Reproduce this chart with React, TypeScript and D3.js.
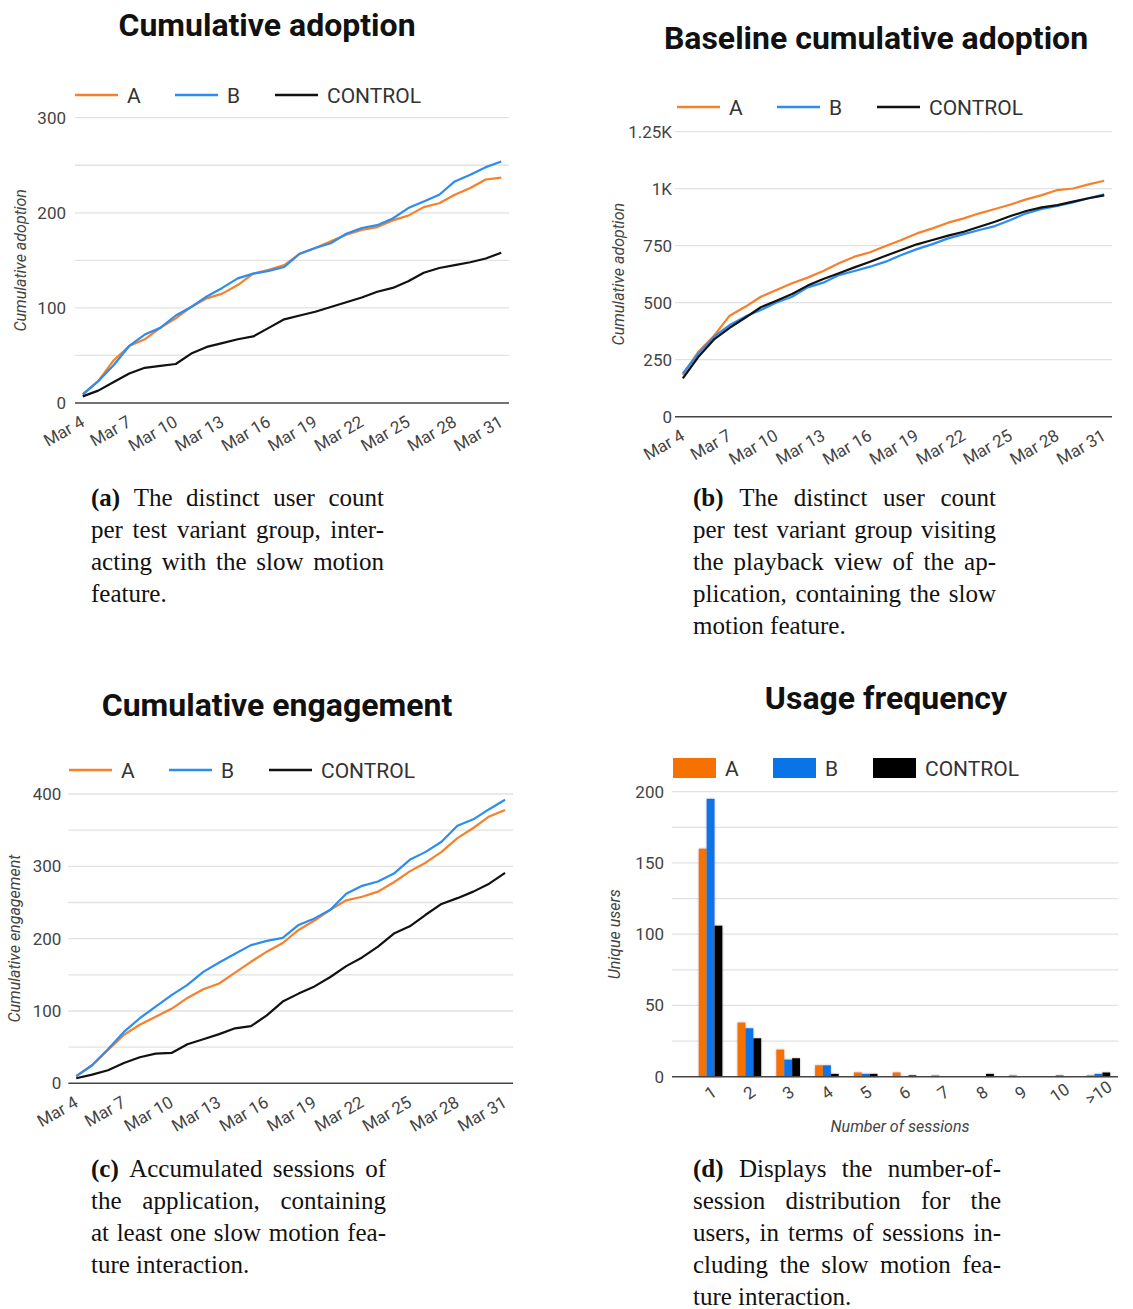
import React from 'react';
import * as d3 from 'd3';

// Day labels shared by the three cumulative charts
const days = [
  'Mar 4', 'Mar 5', 'Mar 6', 'Mar 7', 'Mar 8', 'Mar 9', 'Mar 10', 'Mar 11', 'Mar 12', 'Mar 13',
  'Mar 14', 'Mar 15', 'Mar 16', 'Mar 17', 'Mar 18', 'Mar 19', 'Mar 20', 'Mar 21', 'Mar 22', 'Mar 23',
  'Mar 24', 'Mar 25', 'Mar 26', 'Mar 27', 'Mar 28', 'Mar 29', 'Mar 30', 'Mar 31',
];

// (a) Cumulative adoption
const adoptionA = [9, 23, 45, 60, 67, 79, 89, 101, 110, 115, 124, 136, 140, 145, 157, 163, 170, 177, 182, 185, 192, 197, 206, 210, 219, 226, 235, 237];
const adoptionB = [9, 23, 40, 60, 72, 79, 92, 101, 112, 121, 131, 136, 139, 143, 157, 163, 168, 178, 184, 187, 194, 205, 212, 219, 233, 240, 248, 254];
const adoptionControl = [7, 13, 22, 31, 37, 39, 41, 52, 59, 63, 67, 70, 79, 88, 92, 96, 101, 106, 111, 117, 121, 128, 137, 142, 145, 148, 152, 158];

// (b) Baseline cumulative adoption
const baselineA = [183, 285, 355, 443, 482, 526, 556, 585, 610, 639, 673, 702, 721, 749, 775, 804, 826, 851, 870, 892, 911, 931, 953, 972, 994, 1001, 1019, 1035];
const baselineB = [190, 278, 351, 402, 439, 468, 501, 526, 567, 588, 621, 639, 658, 680, 709, 735, 757, 782, 801, 819, 836, 863, 892, 911, 925, 940, 958, 975];
const baselineControl = [168, 263, 339, 390, 434, 480, 509, 538, 575, 604, 629, 655, 680, 706, 731, 756, 775, 794, 811, 833, 855, 880, 902, 918, 928, 943, 958, 971];

// (c) Cumulative engagement
const engagementA = [10, 25, 46, 67, 81, 92, 103, 118, 130, 138, 153, 168, 182, 194, 212, 225, 240, 253, 258, 265, 278, 293, 305, 320, 339, 353, 369, 378];
const engagementB = [10, 25, 47, 71, 90, 106, 122, 136, 154, 167, 179, 191, 197, 201, 219, 228, 240, 262, 273, 279, 290, 309, 320, 334, 356, 365, 379, 392];
const engagementControl = [7, 12, 18, 28, 36, 41, 42, 54, 61, 68, 76, 79, 94, 113, 124, 134, 147, 162, 174, 189, 207, 217, 233, 248, 256, 265, 276, 291];

// (d) Usage frequency
const sessionBuckets = ['1', '2', '3', '4', '5', '6', '7', '8', '9', '10', '>10'];
const usersA = [160, 38, 19, 8, 3, 3, 1, 0, 1, 0, 1];
const usersB = [195, 34, 12, 8, 2, 0, 0, 0, 0, 1, 2];
const usersControl = [106, 27, 13, 2, 2, 1, 0, 2, 0, 0, 3];

const seriesNames = ['A', 'B', 'CONTROL'];
const lineColors = ['#f7812b', '#2b8df2', '#111111'];
const barColors = ['#f57100', '#0a73e8', '#000000'];

const SANS = 'Roboto, "Noto Sans", sans-serif';
const SERIF_NAME = '"Liberation Serif"';
const SERIF = `${SERIF_NAME}, "DejaVu Serif", serif`;
const CAPTION_SIZE = 25;
const TICK = '#444';

// Text measurement for justified captions
const measureCtx: CanvasRenderingContext2D | null =
  typeof document !== 'undefined' ? document.createElement('canvas').getContext('2d') : null;
function measure(text: string, bold: boolean): number {
  if (!measureCtx) return text.length * CAPTION_SIZE * 0.45;
  measureCtx.font = `${bold ? 'bold ' : ''}${CAPTION_SIZE}px ${SERIF_NAME}, serif`;
  return measureCtx.measureText(text).width;
}

type LineCfg = {
  title: string;
  titleX: number;
  titleY: number;
  legendX: number;
  legendY: number;
  left: number;
  right: number;
  top: number;
  bottom: number;
  yMax: number;
  labelStep: number;
  gridStep: number;
  labelGap: number;
  yLabel: string;
  yLabelX: number;
  fmt: (v: number) => string;
  series: number[][];
};

function Legend({ x, y, kind }: { x: number; y: number; kind: 'line' | 'rect' }) {
  const offsets = [0, 100, 200];
  return (
    <g>
      {seriesNames.map((name, i) => {
        const x0 = x + offsets[i];
        return (
          <g key={name}>
            {kind === 'line' ? (
              <line x1={x0} x2={x0 + 43} y1={y} y2={y} stroke={lineColors[i]} strokeWidth={2.5} />
            ) : (
              <rect x={x0} y={y - 10} width={43} height={20} fill={barColors[i]} />
            )}
            <text x={x0 + 52} y={y} dy="0.36em" fontFamily={SANS} fontSize={21} fill="#333">
              {name}
            </text>
          </g>
        );
      })}
    </g>
  );
}

function LineChart({ cfg }: { cfg: LineCfg }) {
  const x = d3.scalePoint<string>().domain(days).range([cfg.left, cfg.right]).padding(0.5);
  const y = d3.scaleLinear().domain([0, cfg.yMax]).range([cfg.bottom, cfg.top]);
  const line = d3
    .line<number>()
    .x((_, i) => x(days[i]) as number)
    .y((v) => y(v));
  const grid = d3.range(cfg.gridStep, cfg.yMax + 1e-6, cfg.gridStep);
  const labels = d3.range(0, cfg.yMax + 1e-6, cfg.labelStep);
  const tickDays = days.filter((_, i) => i % 3 === 0);
  const midY = (cfg.top + cfg.bottom) / 2;
  return (
    <g>
      <text x={cfg.titleX} y={cfg.titleY} textAnchor="middle" fontFamily={SANS} fontWeight={700} fontSize={32} fill="#111">
        {cfg.title}
      </text>
      <Legend x={cfg.legendX} y={cfg.legendY} kind="line" />
      {grid.map((v) => (
        <line key={v} x1={cfg.left} x2={cfg.right} y1={y(v)} y2={y(v)} stroke="#e2e2e2" strokeWidth={1.3} />
      ))}
      {labels.map((v) => (
        <text key={v} x={cfg.left - cfg.labelGap} y={y(v)} dy="0.35em" textAnchor="end" fontFamily={SANS} fontSize={17} fill={TICK}>
          {cfg.fmt(v)}
        </text>
      ))}
      <line x1={cfg.left} x2={cfg.right} y1={y(0)} y2={y(0)} stroke="#444" strokeWidth={1.5} />
      {cfg.series.map((vals, i) => (
        <path key={i} d={line(vals) || ''} fill="none" stroke={lineColors[i]} strokeWidth={2.2} strokeLinejoin="round" />
      ))}
      {tickDays.map((d) => (
        <text
          key={d}
          transform={`translate(${(x(d) as number) - 3},${cfg.bottom + 12}) rotate(-30)`}
          dy="0.7em"
          textAnchor="end"
          fontFamily={SANS}
          fontSize={17}
          fill={TICK}
        >
          {d}
        </text>
      ))}
      <text
        transform={`translate(${cfg.yLabelX},${midY}) rotate(-90)`}
        textAnchor="middle"
        fontFamily={SANS}
        fontStyle="italic"
        fontSize={16}
        fill={TICK}
      >
        {cfg.yLabel}
      </text>
    </g>
  );
}

function BarChart() {
  const left = 672;
  const right = 1118;
  const top = 791.7;
  const bottom = 1076.7;
  const yMax = 200;
  const x = d3.scaleBand<string>().domain(sessionBuckets).range([691, right]).paddingInner(0.39).paddingOuter(0.2);
  const sub = d3.scaleBand<number>().domain([0, 1, 2]).range([0, x.bandwidth()]);
  const y = d3.scaleLinear().domain([0, yMax]).range([bottom, top]);
  const grid = d3.range(25, yMax + 1e-6, 25);
  const labels = d3.range(0, yMax + 1e-6, 50);
  const groups = [usersA, usersB, usersControl];
  return (
    <g>
      <defs>
        <filter id="barHalo" x="-50%" y="-10%" width="200%" height="120%">
          <feDropShadow dx={0} dy={0} stdDeviation={1} floodColor="#777" floodOpacity={0.55} />
        </filter>
      </defs>
      <text x={886} y={709} textAnchor="middle" fontFamily={SANS} fontWeight={700} fontSize={32} fill="#111">
        Usage frequency
      </text>
      <Legend x={673} y={768} kind="rect" />
      {grid.map((v) => (
        <line key={v} x1={left} x2={right} y1={y(v)} y2={y(v)} stroke="#e2e2e2" strokeWidth={1.3} />
      ))}
      {labels.map((v) => (
        <text key={v} x={left - 8} y={y(v)} dy="0.35em" textAnchor="end" fontFamily={SANS} fontSize={17} fill={TICK}>
          {v}
        </text>
      ))}
      <g filter="url(#barHalo)">
        {sessionBuckets.map((b, i) =>
          groups.map((vals, k) =>
            vals[i] > 0 ? (
              <rect
                key={`${b}-${k}`}
                x={(x(b) as number) + (sub(k) as number)}
                y={y(vals[i])}
                width={sub.bandwidth()}
                height={bottom - y(vals[i])}
                fill={barColors[k]}
              />
            ) : null
          )
        )}
      </g>
      <line x1={left} x2={right} y1={bottom} y2={bottom} stroke="#444" strokeWidth={1.5} />
      {sessionBuckets.map((b) => (
        <text
          key={b}
          transform={`translate(${(x(b) as number) + x.bandwidth() / 2},${bottom + 16}) rotate(-35)`}
          dy="0.35em"
          textAnchor="middle"
          fontFamily={SANS}
          fontSize={17}
          fill={TICK}
        >
          {b}
        </text>
      ))}
      <text x={900} y={1126} dy="0.35em" textAnchor="middle" fontFamily={SANS} fontStyle="italic" fontSize={16} fill={TICK}>
        Number of sessions
      </text>
      <text
        transform={`translate(620,${(top + bottom) / 2}) rotate(-90)`}
        textAnchor="middle"
        fontFamily={SANS}
        fontStyle="italic"
        fontSize={16}
        fill={TICK}
      >
        Unique users
      </text>
    </g>
  );
}

// Justified caption block: words are spread across each full line, the last line is set ragged
function Caption({ x, width, y, tag, lines }: { x: number; width: number; y: number; tag: string; lines: string[] }) {
  const space = measure(' ', false);
  return (
    <g fontFamily={SERIF} fontSize={CAPTION_SIZE} fill="#111">
      {lines.map((ln, i) => {
        const words = ln.split(' ').map((w) => ({ w, bold: false }));
        if (i === 0) words.unshift({ w: tag, bold: true });
        const widths = words.map((d) => measure(d.w, d.bold));
        const total = d3.sum(widths);
        const justify = i < lines.length - 1 && words.length > 1;
        const gap = justify ? Math.max((width - total) / (words.length - 1), space * 0.6) : space;
        let cx = x;
        return (
          <text key={i} y={y + i * 32}>
            {words.map((d, k) => {
              const px = cx;
              cx += widths[k] + gap;
              return (
                <tspan key={k} x={px} fontWeight={d.bold ? 700 : 400}>
                  {d.w}
                </tspan>
              );
            })}
          </text>
        );
      })}
    </g>
  );
}

const kFmt = (v: number) => (v >= 1000 ? `${d3.format('~g')(v / 1000)}K` : `${v}`);
const plainFmt = (v: number) => `${v}`;

const charts: LineCfg[] = [
  {
    title: 'Cumulative adoption', titleX: 267, titleY: 36, legendX: 75, legendY: 95,
    left: 75, right: 509, top: 117.7, bottom: 403, yMax: 300, labelStep: 100, gridStep: 50, labelGap: 9,
    yLabel: 'Cumulative adoption', yLabelX: 26, fmt: plainFmt,
    series: [adoptionA, adoptionB, adoptionControl],
  },
  {
    title: 'Baseline cumulative adoption', titleX: 876, titleY: 49, legendX: 677, legendY: 107,
    left: 675, right: 1112, top: 131.7, bottom: 416.7, yMax: 1250, labelStep: 250, gridStep: 250, labelGap: 3,
    yLabel: 'Cumulative adoption', yLabelX: 624, fmt: kFmt,
    series: [baselineA, baselineB, baselineControl],
  },
  {
    title: 'Cumulative engagement', titleX: 277, titleY: 716, legendX: 69, legendY: 770,
    left: 68.3, right: 513, top: 794, bottom: 1083.3, yMax: 400, labelStep: 100, gridStep: 50, labelGap: 7,
    yLabel: 'Cumulative engagement', yLabelX: 20, fmt: plainFmt,
    series: [engagementA, engagementB, engagementControl],
  },
];

export default function App() {
  return (
    <svg
      width={1133}
      height={1309}
      viewBox="0 0 1133 1309"
      style={{ position: 'absolute', left: 0, top: 0, display: 'block', background: '#fff' }}
    >
      <rect width={1133} height={1309} fill="#fff" />
      {charts.map((c) => (
        <LineChart key={c.title} cfg={c} />
      ))}
      <BarChart />
      <Caption x={91} width={293} y={506} tag="(a)" lines={['The distinct user count', 'per test variant group, inter-', 'acting with the slow motion', 'feature.']} />
      <Caption
        x={693}
        width={303}
        y={506}
        tag="(b)"
        lines={['The distinct user count', 'per test variant group visiting', 'the playback view of the ap-', 'plication, containing the slow', 'motion feature.']}
      />
      <Caption x={91} width={295} y={1177} tag="(c)" lines={['Accumulated sessions of', 'the application, containing', 'at least one slow motion fea-', 'ture interaction.']} />
      <Caption
        x={693}
        width={308}
        y={1177}
        tag="(d)"
        lines={['Displays the number-of-', 'session distribution for the', 'users, in terms of sessions in-', 'cluding the slow motion fea-', 'ture interaction.']}
      />
    </svg>
  );
}
